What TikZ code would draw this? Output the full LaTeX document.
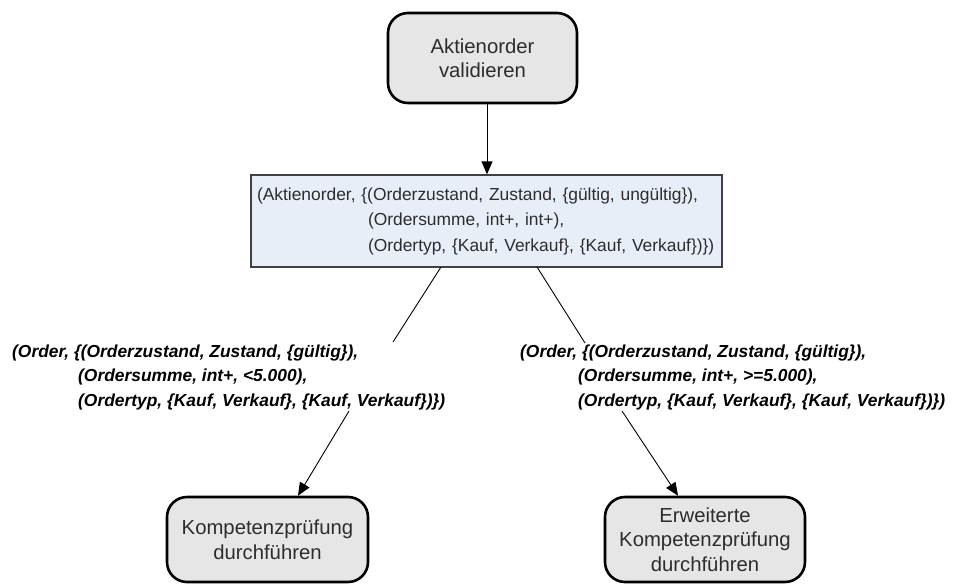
\documentclass[tikz,border=0pt]{standalone}
\usepackage{fontspec}
\setmainfont{Liberation Sans}
\usetikzlibrary{arrows.meta}
\definecolor{boxgray}{RGB}{230,230,230}
\definecolor{mainfill}{RGB}{232,238,248}
\definecolor{maindraw}{RGB}{64,64,64}
\definecolor{textgray}{RGB}{45,45,45}
\begin{document}
\begin{tikzpicture}[x=1pt,y=-1pt,
  procbox/.style={draw=black,line width=2.6pt,rounded corners=20pt,fill=boxgray,
    align=center,inner sep=0pt,text=textgray,font=\fontsize{20.3}{24.5}\selectfont},
  statebox/.style={draw=maindraw,line width=1.3pt,fill=mainfill,inner xsep=6pt,inner ysep=0pt,
    text width=459pt,align=left,minimum height=92pt,text=textgray,font=\fontsize{17.4}{25.5}\selectfont},
  condlabel/.style={inner sep=0pt,align=left,anchor=base west,text=black,
    font=\fontsize{17.4}{24.2}\selectfont\bfseries\itshape},
  link/.style={line width=0.9pt,draw=black},
  flow/.style={line width=0.9pt,draw=black,-{Triangle[length=13pt,width=11pt]}}]
\useasboundingbox (0,0) rectangle (954,584);

\node[procbox,minimum width=189pt,minimum height=90pt] (top) at (482.5,58)
  {Aktienorder\\validieren};

\node[statebox,minimum width=471pt] (main) at (486.5,221)
  {(Aktienorder, \{(Orderzustand, Zustand, \{gültig, ungültig\}),\\
   \hspace*{111pt}(Ordersumme, int+, int+),\\
   \hspace*{111pt}(Ordertyp, \{Kauf, Verkauf\}, \{Kauf, Verkauf\})\})};

% base anchor of a multi-line node lies on its last line
\node[condlabel] (condl) at (12,406)
  {(Order, \{(Orderzustand, Zustand, \{gültig\}),\\
   \hspace*{66pt}(Ordersumme, int+, <5.000),\\
   \hspace*{66pt}(Ordertyp, \{Kauf, Verkauf\}, \{Kauf, Verkauf\})\})};

\node[condlabel] (condr) at (520,406)
  {(Order, \{(Orderzustand, Zustand, \{gültig\}),\\
   \hspace*{58pt}(Ordersumme, int+, >=5.000),\\
   \hspace*{58pt}(Ordertyp, \{Kauf, Verkauf\}, \{Kauf, Verkauf\})\})};

\node[procbox,minimum width=201pt,minimum height=85pt] (bl) at (267.5,539.5)
  {Kompetenzprüfung\\durchführen};

\node[procbox,minimum width=200pt,minimum height=85pt] (br) at (705,539.5)
  {Erweiterte\\Kompetenzprüfung\\durchführen};

% connector end points
\coordinate (mainL) at (441,267);
\coordinate (mainR) at (537,267);
\coordinate (condlT) at (393,342);
\coordinate (condrT) at (585,343);
\coordinate (condlB) at (349,411);
\coordinate (condrB) at (622,411);
\coordinate (topB) at (487,103);
\coordinate (blT) at (298,497);
\coordinate (brT) at (678,497);

\draw[flow] (topB) -- (main.north -| topB);
\draw[link] (mainL) -- (condlT);
\draw[link] (mainR) -- (condrT);
\draw[flow] (condlB) -- (bl.north -| blT);
\draw[flow] (condrB) -- (br.north -| brT);
\end{tikzpicture}
\end{document}
